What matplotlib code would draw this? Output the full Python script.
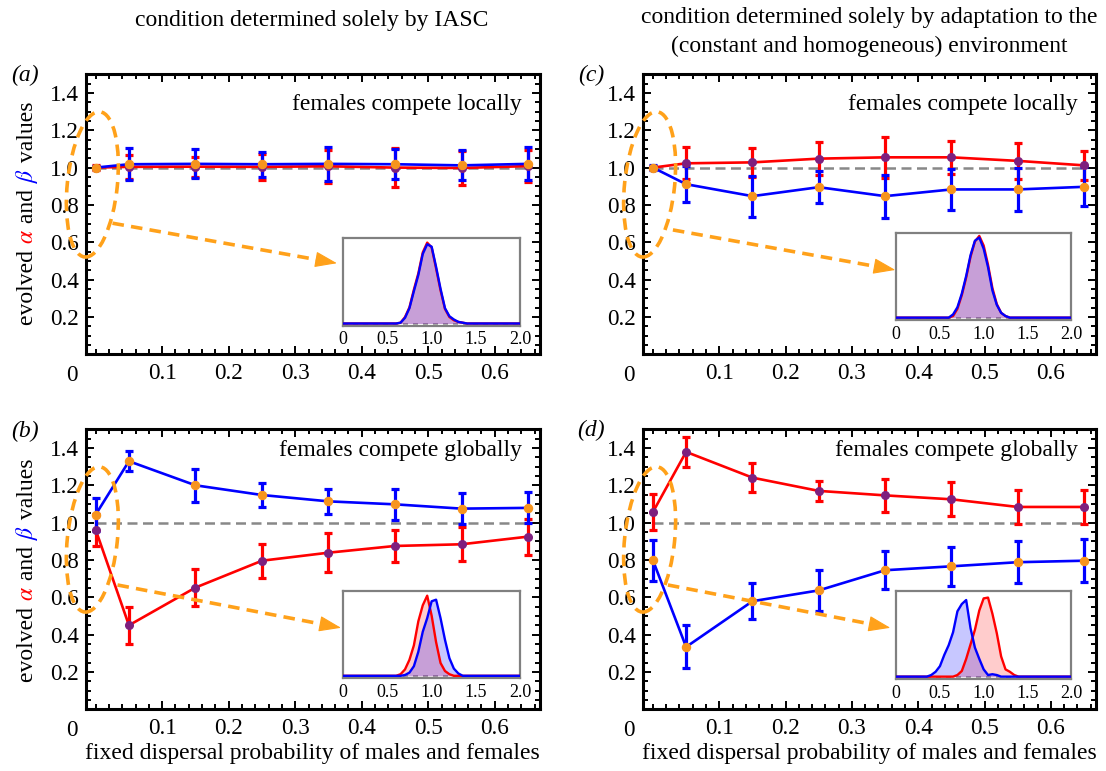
import matplotlib
matplotlib.use('Agg')
import matplotlib.pyplot as plt
import numpy as np
from matplotlib.patches import Ellipse
from matplotlib import transforms
from matplotlib.ticker import FixedLocator, MultipleLocator

plt.rcParams['font.family'] = ['Liberation Serif', 'DejaVu Serif']
plt.rcParams['mathtext.fontset'] = 'stix'

# fixed dispersal probabilities
disp = [0.0, 0.05, 0.15, 0.25, 0.35, 0.45, 0.55, 0.65]

# evolved alpha (red) and beta (blue), mean and error per panel
a_alpha = [1.0, 1.004, 1.005, 1.004, 1.007, 1.0, 0.998, 1.008]
a_alpha_err = [0.015, 0.066, 0.053, 0.07, 0.087, 0.103, 0.092, 0.087]
a_beta = [1.0, 1.018, 1.02, 1.018, 1.02, 1.018, 1.012, 1.02]
a_beta_err = [0.01, 0.087, 0.077, 0.067, 0.09, 0.08, 0.08, 0.088]

b_alpha = [0.962, 0.45, 0.652, 0.796, 0.839, 0.875, 0.884, 0.925]
b_alpha_err = [0.085, 0.098, 0.10, 0.09, 0.105, 0.088, 0.09, 0.096]
b_beta = [1.043, 1.329, 1.2, 1.148, 1.114, 1.098, 1.075, 1.079]
b_beta_err = [0.09, 0.053, 0.088, 0.063, 0.067, 0.082, 0.083, 0.083]

c_alpha = [1.0, 1.023, 1.028, 1.048, 1.055, 1.055, 1.036, 1.012]
c_alpha_err = [0.01, 0.086, 0.078, 0.089, 0.11, 0.089, 0.098, 0.078]
c_beta = [1.0, 0.911, 0.847, 0.895, 0.847, 0.883, 0.883, 0.897]
c_beta_err = [0.012, 0.095, 0.11, 0.086, 0.115, 0.111, 0.117, 0.104]

d_alpha = [1.057, 1.379, 1.241, 1.17, 1.146, 1.125, 1.084, 1.084]
d_alpha_err = [0.098, 0.08, 0.078, 0.055, 0.088, 0.091, 0.089, 0.089]
d_beta = [0.798, 0.334, 0.579, 0.637, 0.745, 0.766, 0.788, 0.796]
d_beta_err = [0.109, 0.115, 0.096, 0.11, 0.103, 0.104, 0.112, 0.115]

# trait distributions at the lowest dispersal (relative frequency)
hist_x = [0.35, 0.40, 0.45, 0.50, 0.55, 0.60, 0.65, 0.70, 0.75, 0.80, 0.85, 0.90,
          0.95, 1.00, 1.05, 1.10, 1.15, 1.20, 1.25, 1.30, 1.35, 1.40, 1.45]
a_hist_alpha = [0, 0, 0, 0, 0, 0, 0.01, 0.08, 0.20, 0.42, 0.62, 0.88, 1.0, 0.94,
                0.68, 0.41, 0.18, 0.08, 0.04, 0.02, 0.01, 0, 0]
a_hist_beta = [0, 0, 0, 0, 0, 0, 0.01, 0.07, 0.19, 0.40, 0.60, 0.86, 0.98, 0.95,
               0.70, 0.43, 0.19, 0.09, 0.05, 0.02, 0.01, 0, 0]
b_hist_alpha = [0, 0, 0, 0, 0, 0, 0.02, 0.08, 0.20, 0.38, 0.68, 0.88, 1.0, 0.75,
                0.42, 0.16, 0.06, 0.02, 0, 0, 0, 0, 0]
b_hist_beta = [0, 0, 0, 0, 0, 0, 0, 0.01, 0.04, 0.12, 0.30, 0.55, 0.72, 0.93,
               0.95, 0.72, 0.45, 0.22, 0.09, 0.03, 0, 0, 0]
c_hist_alpha = [0, 0, 0, 0, 0, 0, 0.02, 0.11, 0.28, 0.50, 0.76, 0.95, 1.02, 0.90,
                0.66, 0.37, 0.17, 0.06, 0.02, 0, 0, 0, 0]
c_hist_beta = [0, 0, 0, 0, 0, 0, 0.04, 0.13, 0.30, 0.52, 0.78, 0.96, 1.0, 0.86,
               0.63, 0.34, 0.16, 0.06, 0.02, 0, 0, 0, 0]
d_hist_alpha = [0, 0, 0, 0, 0, 0, 0, 0.02, 0.07, 0.22, 0.40, 0.58, 0.82, 0.97,
                0.98, 0.78, 0.54, 0.25, 0.09, 0.06, 0.02, 0, 0]
d_hist_beta = [0, 0.02, 0.06, 0.13, 0.27, 0.39, 0.55, 0.81, 0.90, 0.95, 0.60, 0.36,
               0.22, 0.09, 0.02, 0.03, 0.02, 0, 0, 0, 0, 0, 0]

RED = '#FF0000'
BLUE = '#0000FF'
ORANGE = '#FFA11A'
MARK_ORANGE = '#F7941D'
PURPLE = '#7E1F7E'
FS = 17
W, H = 1106, 771

fig = plt.figure(figsize=(W / 100, H / 100), dpi=100)


def px_axes(left, top, right, bottom):
    return fig.add_axes([left / W, 1 - bottom / H, (right - left) / W, (bottom - top) / H])


def main_panel(ax, alpha, alpha_err, beta, beta_err, hist_a, hist_b, inset_box,
               note, note_y, arrow_start, arrow_tip):
    ax.plot([disp[0], disp[-1]], [1, 1], color='#888888', lw=1.8, dashes=(4, 2.2), zorder=1)
    ax.errorbar(disp, alpha, yerr=alpha_err, color=RED, lw=1.9, elinewidth=2.3,
                capsize=3, capthick=2.3, zorder=2)
    ax.errorbar(disp, beta, yerr=beta_err, color=BLUE, lw=1.9, elinewidth=2.3,
                capsize=3, capthick=2.3, zorder=3)
    ax.plot(disp, alpha, 'o', color=PURPLE, ms=5.5, zorder=4)
    ax.plot(disp, beta, 'o', color=MARK_ORANGE, ms=5.8, zorder=5)

    ax.set_xlim(-0.015, 0.668)
    ax.set_ylim(0, 1.5)
    ax.xaxis.set_major_locator(FixedLocator([0.1, 0.2, 0.3, 0.4, 0.5, 0.6]))
    ax.xaxis.set_minor_locator(MultipleLocator(0.02))
    ax.yaxis.set_major_locator(FixedLocator([0.2, 0.4, 0.6, 0.8, 1.0, 1.2, 1.4]))
    ax.yaxis.set_minor_locator(MultipleLocator(0.05))
    ax.set_xticklabels(['0.1', '0.2', '0.3', '0.4', '0.5', '0.6'])
    ax.set_yticklabels(['0.2', '0.4', '0.6', '0.8', '1.0', '1.2', '1.4'])
    ax.tick_params(which='both', direction='in', top=True, right=True, width=1.4,
                   labelsize=16.7)
    ax.tick_params(which='major', length=6)
    ax.tick_params(which='minor', length=3.5)
    ax.tick_params(axis='x', pad=6)
    ax.tick_params(axis='y', pad=5)
    for sp in ax.spines.values():
        sp.set_linewidth(2.2)
    # shared origin label sits outside the corner
    ax.text(-0.031, -0.075, '0', transform=ax.transAxes, ha='center', va='center',
            fontsize=16.7)
    ax.text(0.96, note_y, note, transform=ax.transAxes, ha='right', va='center',
            fontsize=FS)

    # dashed ring around the lowest dispersal point
    ring_tr = fig.dpi_scale_trans + transforms.ScaledTranslation(-0.005, 0.91, ax.transData)
    ring = Ellipse((0, 0), 0.50, 1.46, angle=-6, transform=ring_tr, fill=False,
                   ec=ORANGE, lw=2.6, linestyle=(0, (3.2, 2.0)), clip_on=False, zorder=6)
    ax.add_patch(ring)

    # dashed arrow towards the inset
    sx, sy = arrow_start
    tx, ty = arrow_tip
    p0 = ax.transAxes.transform((sx, sy))
    p1 = ax.transAxes.transform((tx, ty))
    d = (p1 - p0) / np.hypot(*(p1 - p0))
    base = ax.transAxes.inverted().transform(p1 - d * 19)
    ax.plot([sx, base[0]], [sy, base[1]], transform=ax.transAxes, color=ORANGE, lw=2.6,
            dashes=(3.2, 2.0), clip_on=False, zorder=6)
    ax.annotate('', xy=(tx, ty), xytext=base, xycoords='axes fraction',
                textcoords='axes fraction',
                arrowprops=dict(arrowstyle='-|>,head_length=1.4,head_width=0.5',
                                mutation_scale=10, fc=ORANGE, ec=ORANGE, lw=0.8,
                                shrinkA=0, shrinkB=0), zorder=6)

    # inset with the trait distributions
    ins = ax.inset_axes(inset_box)
    hx = [0.0] + hist_x + [2.0]
    ha = [0] + hist_a + [0]
    hb = [0] + hist_b + [0]
    ins.plot([0, 2], [0, 0], color='#999999', lw=1.2, dashes=(3, 3), zorder=1)
    ins.fill_between(hx, 0, ha, color=RED, alpha=0.2, lw=0, zorder=2)
    ins.fill_between(hx, 0, hb, color=BLUE, alpha=0.22, lw=0, zorder=2)
    ins.plot(hx, ha, color=RED, lw=1.7, zorder=3)
    ins.plot(hx, hb, color=BLUE, lw=1.7, zorder=4)
    ins.set_xlim(0, 2.0)
    ins.set_ylim(-0.03, 1.06)
    ins.set_xticks([0, 0.5, 1.0, 1.5, 2.0])
    ins.set_xticklabels(['0', '0.5', '1.0', '1.5', '2.0'])
    ins.set_yticks([])
    ins.tick_params(axis='x', length=0, pad=4, labelsize=13)
    for sp in ins.spines.values():
        sp.set_linewidth(1.6)
        sp.set_color('#808080')
    return ax


def colored_ylabel(x_px, y_mid_px, pieces, size=FS):
    renderer = fig.canvas.get_renderer()
    ident = transforms.IdentityTransform()
    texts = []
    for s, c in pieces:
        t = fig.text(0, 0, s, color=c, rotation=90, rotation_mode='anchor',
                     ha='left', va='baseline', fontsize=size, transform=ident)
        texts.append(t)
    lengths = [t.get_window_extent(renderer).height for t in texts]
    y = (H - y_mid_px) - sum(lengths) / 2
    for t, L in zip(texts, lengths):
        t.set_position((x_px, y))
        y += L


ax_a = px_axes(85.7, 74.3, 540, 354.2)
ax_b = px_axes(85.7, 429.3, 540, 709.3)
ax_c = px_axes(643, 74.3, 1096, 354.2)
ax_d = px_axes(643, 429.3, 1096, 709.3)

main_panel(ax_a, a_alpha, a_alpha_err, a_beta, a_beta_err, a_hist_alpha, a_hist_beta,
           [0.566, 0.101, 0.391, 0.315], 'females compete locally', 0.893,
           (0.059, 0.468), (0.553, 0.325))
main_panel(ax_b, b_alpha, b_alpha_err, b_beta, b_beta_err, b_hist_alpha, b_hist_beta,
           [0.566, 0.111, 0.391, 0.312], 'females compete globally', 0.923,
           (0.070, 0.444), (0.562, 0.291))
main_panel(ax_c, c_alpha, c_alpha_err, c_beta, c_beta_err, c_hist_alpha, c_hist_beta,
           [0.559, 0.122, 0.386, 0.312], 'females compete locally', 0.893,
           (0.066, 0.444), (0.557, 0.301))
main_panel(ax_d, d_alpha, d_alpha_err, d_beta, d_beta_err, d_hist_alpha, d_hist_beta,
           [0.559, 0.108, 0.386, 0.314], 'females compete globally', 0.923,
           (0.055, 0.444), (0.546, 0.291))

for ax in (ax_b, ax_d):
    ax.set_xlabel('fixed dispersal probability of males and females', fontsize=FS,
                  labelpad=3)

label_parts = [('evolved ', 'black'), (r'$\alpha$', RED), (' and ', 'black'),
               (r'$\beta$', BLUE), (' values', 'black')]
colored_ylabel(33, 213, label_parts)
colored_ylabel(33, 570, label_parts)

# panel letters
for (px, py), letter in zip([(25, 75.5), (25, 431), (591, 75.5), (591, 430)],
                            ['a', 'b', 'c', 'd']):
    fig.text(px / W, 1 - py / H, '(' + letter + ')', style='italic', fontsize=FS,
             ha='center', va='center')

# column headings
fig.text(312 / W, 1 - 26 / H, 'condition determined solely by IASC', fontsize=FS,
         ha='center', va='baseline')
fig.text(869 / W, 1 - 23.3 / H, 'condition determined solely by adaptation to the',
         fontsize=FS, ha='center', va='baseline')
fig.text(869 / W, 1 - 51.7 / H, '(constant and homogeneous) environment',
         fontsize=FS, ha='center', va='baseline')

fig.savefig('out.png', dpi=100)
